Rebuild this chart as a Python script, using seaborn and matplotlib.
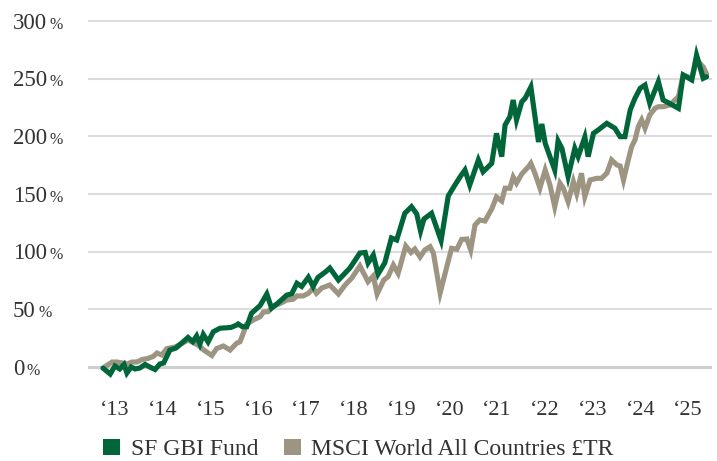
import matplotlib
matplotlib.use("Agg")
import matplotlib.pyplot as plt
from matplotlib.patches import Patch
import seaborn as sns

# Data (decimal years, cumulative return in %)
fund_x = [2012.75, 2012.90, 2013.00, 2013.10, 2013.19, 2013.25, 2013.34, 2013.42, 2013.52, 2013.63,
          2013.73, 2013.84, 2013.94, 2014.02, 2014.15, 2014.28, 2014.40, 2014.53, 2014.63, 2014.71,
          2014.78, 2014.85, 2014.95, 2015.06, 2015.20, 2015.43, 2015.55, 2015.58, 2015.67, 2015.76,
          2015.86, 2016.04, 2016.18, 2016.28, 2016.39, 2016.60, 2016.70, 2016.81, 2016.91, 2017.05,
          2017.15, 2017.25, 2017.42, 2017.50, 2017.68, 2017.92, 2018.13, 2018.24, 2018.30, 2018.41,
          2018.51, 2018.65, 2018.79, 2018.90, 2019.07, 2019.21, 2019.32, 2019.40, 2019.47, 2019.63,
          2019.83, 2019.98, 2020.12, 2020.23, 2020.33, 2020.43, 2020.61, 2020.71, 2020.89, 2020.99,
          2021.10, 2021.17, 2021.27, 2021.34, 2021.41, 2021.52, 2021.59, 2021.71, 2021.87, 2021.94,
          2022.01, 2022.21, 2022.28, 2022.36, 2022.49, 2022.63, 2022.70, 2022.84, 2022.91, 2023.02,
          2023.12, 2023.30, 2023.47, 2023.58, 2023.68, 2023.79, 2023.89, 2024.00, 2024.10, 2024.20,
          2024.38, 2024.48, 2024.55, 2024.80, 2024.90, 2025.08, 2025.18, 2025.32, 2025.39]
fund_y = [-1, -6.1, 0.9, -1.7, 2.2, -5.2, 0, -1.7, -0.9, 2.2,
          0, -2.2, 2.6, 3.5, 14.7, 16.5, 20.8, 25.6, 21.9, 26.9,
          19.9, 28.2, 21.7, 30.6, 33.6, 34.3, 36.4, 37.3, 34.9, 34.9,
          46.6, 53.3, 63.3, 51.1, 54.6, 62.4, 63.3, 72.6, 69.8, 77.8,
          69.8, 77.6, 82.8, 85.8, 75.4, 85.8, 98.8, 99.3, 90.2, 97.1,
          80.6, 90.2, 111.9, 110.1, 133.3, 139.0, 132.7, 117.9, 128.3, 133.3,
          109.7, 148.3, 157.8, 165.0, 170.8, 157.8, 179.5, 169.3, 176.6, 202.6,
          182.4, 209.8, 217.0, 231.5, 214.2, 230.0, 233.0, 242.8, 195.1, 210.7,
          194.0, 170.8, 196.0, 189.6, 165.0, 189.6, 182.4, 199.4, 182.4, 202.6,
          205.5, 211.3, 207.0, 199.7, 199.7, 222.8, 233.0, 241.7, 244.5, 228.7,
          247.4, 231.5, 230.0, 224.3, 253.2, 248.9, 270.5, 250.3, 251.7]

msci_x = [2012.75, 2012.94, 2013.04, 2013.15, 2013.25, 2013.36, 2013.46, 2013.57, 2013.69, 2013.80,
          2013.88, 2013.98, 2014.09, 2014.26, 2014.40, 2014.53, 2014.68, 2014.78, 2014.86, 2015.03,
          2015.13, 2015.27, 2015.41, 2015.55, 2015.62, 2015.76, 2015.90, 2016.04, 2016.11, 2016.21,
          2016.32, 2016.46, 2016.60, 2016.73, 2016.81, 2016.94, 2017.05, 2017.15, 2017.22, 2017.33,
          2017.50, 2017.68, 2017.82, 2017.96, 2018.13, 2018.30, 2018.41, 2018.49, 2018.63, 2018.72,
          2018.83, 2018.93, 2019.09, 2019.20, 2019.28, 2019.39, 2019.49, 2019.60, 2019.67, 2019.81,
          2019.95, 2020.05, 2020.16, 2020.26, 2020.37, 2020.45, 2020.54, 2020.64, 2020.75, 2020.89,
          2020.99, 2021.10, 2021.17, 2021.27, 2021.34, 2021.41, 2021.52, 2021.66, 2021.71, 2021.80,
          2021.90, 2022.01, 2022.11, 2022.21, 2022.32, 2022.39, 2022.49, 2022.60, 2022.67, 2022.77,
          2022.84, 2022.95, 2023.09, 2023.19, 2023.30, 2023.40, 2023.51, 2023.58, 2023.65, 2023.75,
          2023.82, 2023.89, 2023.96, 2024.03, 2024.10, 2024.20, 2024.31, 2024.38, 2024.48, 2024.62,
          2024.80, 2024.90, 2025.08, 2025.19, 2025.32, 2025.39]
msci_y = [-0.9, 4.3, 4.3, 3.5, 2.6, 4.3, 4.3, 6.5, 7.4, 9.1,
          12.1, 10.4, 16.0, 17.3, 20.4, 23.4, 20.4, 17.8, 14.7, 10.0,
          16.0, 18.2, 14.7, 20.6, 21.9, 37.3, 40.8, 43.6, 47.7, 48.0,
          52.9, 55.1, 58.1, 58.7, 61.6, 61.6, 63.9, 68.2, 63.9, 68.5,
          71.1, 63.3, 71.1, 77.2, 87.6, 74.0, 78.9, 63.3, 75.4, 78.3,
          88.4, 81.2, 104.9, 99.3, 102.3, 95.4, 101.5, 104.3, 98.6, 64.2,
          87.0, 102.9, 102.1, 110.6, 111.0, 101.5, 123.1, 127.5, 126.6, 137.0,
          147.4, 143.9, 155.0, 155.0, 164.7, 159.5, 167.4, 173.7, 176.6, 167.4,
          155.2, 170.8, 157.8, 139.0, 159.3, 155.0, 143.3, 160.7, 150.6, 168.0,
          147.7, 162.1, 163.6, 163.6, 168.0, 179.5, 175.2, 174.3, 162.1, 179.5,
          191.0, 196.8, 208.4, 214.2, 207.0, 218.5, 224.3, 225.7, 225.7, 227.2,
          234.4, 253.2, 250.3, 266.2, 260.1, 254.1]

years = list(range(2013, 2026))
y_ticks = [0, 50, 100, 150, 200, 250, 300]
series_names = ["SF GBI Fund", "MSCI World All Countries \u00a3TR"]

green = "#00663a"
taupe = "#9d9482"
text_col = "#333333"

sns.set_theme(style="white")
plt.rcParams["font.family"] = ["Liberation Serif", "DejaVu Serif"]

fig = plt.figure(figsize=(7.17, 4.61), dpi=100)
ax = fig.add_axes([0.1227, 0.1664, 0.8703, 0.793])

sns.lineplot(x=msci_x, y=msci_y, color=taupe, linewidth=3.7, ax=ax, sort=False)
sns.lineplot(x=fund_x, y=fund_y, color=green, linewidth=3.7, ax=ax, sort=False)
for ln in ax.lines:
    ln.set_solid_joinstyle("miter")

ax.set_xlim(2012.435, 2025.503)
ax.set_ylim(-15, 302)

# grid
ax.set_yticks(y_ticks)
ax.yaxis.grid(True, color="#dcdcdc", linewidth=1.5)
ax.set_axisbelow(True)
ax.get_ygridlines()[0].set_color("#cfcfcf")
ax.get_ygridlines()[0].set_linewidth(2.2)
for s in ax.spines.values():
    s.set_visible(False)

# y labels: number plus a smaller % sign, left aligned
ax.set_yticklabels([])
ax.tick_params(axis="both", length=0)
for v in y_ticks:
    n = len(str(v))
    ax.annotate(str(v), xy=(0, v), xycoords=("axes fraction", "data"),
                xytext=(-54, -5.5), textcoords="offset points",
                ha="left", va="baseline", fontsize=16.5, color=text_col)
    ax.annotate("%", xy=(0, v), xycoords=("axes fraction", "data"),
                xytext=(-54 + (n * 11.45 + 2.5) * 0.72, -5.5), textcoords="offset points",
                ha="left", va="baseline", fontsize=11.5, color=text_col)

ax.set_xticks(years)
ax.set_xticklabels(["\u2018" + str(y)[2:] for y in years], fontsize=16, color=text_col)
ax.tick_params(axis="x", pad=12)
ax.set_xlabel("")
ax.set_ylabel("")

handles = [Patch(facecolor=green, edgecolor="none"), Patch(facecolor=taupe, edgecolor="none")]
fig.legend(handles, series_names, loc="lower center", bbox_to_anchor=(0.5, -0.045), ncol=2,
           frameon=False, fontsize=17, handlelength=0.7, handleheight=0.7,
           handletextpad=0.45, columnspacing=1.1, labelcolor=text_col)

fig.savefig("out.png", dpi=100)
